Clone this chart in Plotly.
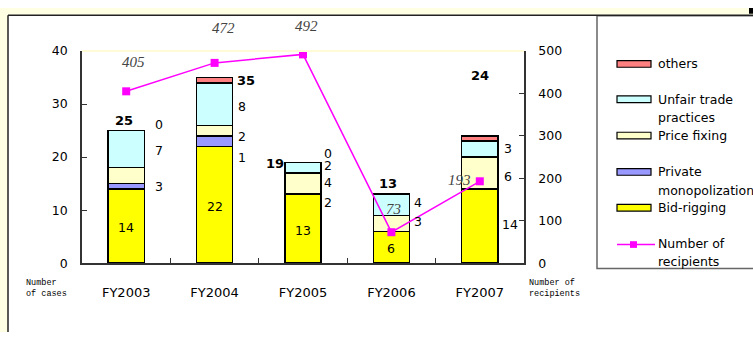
import plotly.graph_objects as go

# ---- data -------------------------------------------------------------
years = ["FY2003", "FY2004", "FY2005", "FY2006", "FY2007"]
bid_rigging = [14, 22, 13, 6, 14]
private_monopolization = [1, 2, 0, 0, 0]
price_fixing = [3, 2, 4, 3, 6]
unfair_trade = [7, 8, 2, 4, 3]
others = [0, 1, 0, 0, 1]
recipients = [405, 472, 492, 73, 193]

# side labels printed beside each bar: (text, height on the cases axis)
side_labels = [
    [("0", 26.1), ("7", 21.2), ("3", 14.4)],
    [("8", 29.5), ("2", 23.9), ("1", 20.0)],
    [("0", 20.7), ("2", 18.5), ("4", 15.3), ("2", 11.5)],
    [("4", 11.5), ("3", 7.8)],
    [("3", 21.7), ("6", 16.3), ("14", 7.2)],
]

W, H = 753, 339
FONT = "DejaVu Sans"


def px(x):
    return x / W


def py(y):
    return 1 - y / H


totals = [a + b + c + d + e for a, b, c, d, e in
          zip(bid_rigging, private_monopolization, price_fixing, unfair_trade, others)]

series = [
    ("Bid-rigging", bid_rigging, "#FFFF00"),
    ("Private monopolization", private_monopolization, "#9999FF"),
    ("Price fixing", price_fixing, "#FFFFCC"),
    ("Unfair trade practices", unfair_trade, "#CCFFFF"),
    ("others", others, "#FF8080"),
]

fig = go.Figure()
for name, vals, col in series:
    fig.add_trace(go.Bar(
        x=years, y=[v if v else None for v in vals], name=name,
        marker=dict(color=col, line=dict(color="black", width=1.5)),
        width=0.41, showlegend=False, hoverinfo="skip",
    ))

fig.add_trace(go.Scatter(
    x=years, y=recipients, yaxis="y2", mode="lines+markers",
    name="Number of recipients",
    line=dict(color="#FF00FF", width=1.5),
    marker=dict(symbol="square", size=8, color="#FF00FF"),
    showlegend=False, cliponaxis=False,
))

ann = []
# bid-rigging values inside the bars
inside_y = [6.7, 10.7, 6.2, 2.8, None]
for yr, v, yy in zip(years, bid_rigging, inside_y):
    if yy is None:
        continue
    ann.append(dict(x=yr, y=yy, xref="x", yref="y", text=str(v), showarrow=False,
                    font=dict(family=FONT, size=12.5, color="black")))

# totals in bold
total_shift = [(-2, 10), (31, -3), (-28, -1), (-3, 11), (0, 60)]
for yr, t, (dx, dy) in zip(years, totals, total_shift):
    ann.append(dict(x=yr, y=t, xref="x", yref="y", text=f"<b>{t}</b>", showarrow=False,
                    xshift=dx, yshift=dy,
                    font=dict(family=FONT, size=13, color="black")))

# side labels
side_dx = [33, 27, 25, 27, 28]
for yr, labs, dx in zip(years, side_labels, side_dx):
    for txt, yy in labs:
        ann.append(dict(x=yr, y=yy, xref="x", yref="y", text=txt, showarrow=False,
                        xshift=dx + (2 if len(txt) > 1 else 0),
                        font=dict(family=FONT, size=12.5, color="black")))

# recipient counts near the line markers
rec_shift = [(7, 29), (9, 35), (3, 28), (2, 23), (-20, 1)]
for yr, r, (dx, dy) in zip(years, recipients, rec_shift):
    ann.append(dict(x=yr, y=r, xref="x", yref="y2", text=f"<i>{r}</i>", showarrow=False,
                    xshift=dx, yshift=dy,
                    font=dict(family="Liberation Serif", size=15, color="#444444")))

# axis captions
mono = dict(family="Liberation Mono", size=8.5, color="black")
ann.append(dict(x=px(24), y=py(293), xref="paper", yref="paper", xanchor="left",
                yanchor="middle", align="left", showarrow=False,
                text="Number<br>of cases", font=mono))
ann.append(dict(x=px(527), y=py(293), xref="paper", yref="paper", xanchor="left",
                yanchor="middle", align="left", showarrow=False,
                text="Number of<br>recipients", font=mono))

shapes = []
# framing strips
shapes.append(dict(type="rect", xref="paper", yref="paper", x0=0, x1=1, y0=py(7), y1=1,
                   fillcolor="#FFFFE4", line=dict(width=0), layer="below"))
shapes.append(dict(type="rect", xref="paper", yref="paper", x0=0, x1=px(8), y0=0, y1=1,
                   fillcolor="#FFFFE4", line=dict(width=0), layer="below"))
shapes.append(dict(type="line", xref="paper", yref="paper", x0=px(8), x1=1, y0=py(7.5), y1=py(7.5),
                   line=dict(color="#222222", width=1.5)))
shapes.append(dict(type="line", xref="paper", yref="paper", x0=px(8), x1=px(8), y0=0, y1=py(7.5),
                   line=dict(color="#222222", width=1.5)))
shapes.append(dict(type="rect", xref="paper", yref="paper", x0=px(749), x1=1, y0=py(6), y1=1,
                   fillcolor="black", line=dict(width=0)))
# faint top edge of the plot area
shapes.append(dict(type="line", xref="paper", yref="paper", x0=px(82), x1=px(524), y0=py(45), y1=py(45),
                   line=dict(color="#FFFBD6", width=2)))

# legend frame and entries
shapes.append(dict(type="rect", xref="paper", yref="paper", x0=px(597), x1=px(760),
                   y0=py(272.5), y1=py(8), fillcolor="white",
                   line=dict(color="#666666", width=1.5), layer="below"))
legend_items = [
    ("others", "#FF8080", 58.5, ["others"]),
    ("unfair", "#CCFFFF", 95.5, ["Unfair trade", "practices"]),
    ("price", "#FFFFCC", 133.5, ["Price fixing"]),
    ("private", "#9999FF", 171.5, ["Private", "monopolization"]),
    ("bid", "#FFFF00", 209, ["Bid-rigging"]),
]
LEG_FONT = dict(family=FONT, size=12.5, color="black")
for _, col, yc, lines in legend_items:
    shapes.append(dict(type="rect", xref="paper", yref="paper", x0=px(617), x1=px(651),
                       y0=py(yc + 3.5), y1=py(yc - 3.5), fillcolor=col,
                       line=dict(color="black", width=1.2)))
    for i, t in enumerate(lines):
        ann.append(dict(x=px(656), y=py(yc + 19.5 * i), xref="paper", yref="paper",
                        xanchor="left", yanchor="middle", showarrow=False, text=t,
                        font=LEG_FONT))
yl = 247.5
shapes.append(dict(type="line", xref="paper", yref="paper", x0=px(617), x1=px(655), y0=py(yl), y1=py(yl),
                   line=dict(color="#FF00FF", width=1.5)))
shapes.append(dict(type="rect", xref="paper", yref="paper", x0=px(630), x1=px(637),
                   y0=py(yl + 3.5), y1=py(yl - 3.5), fillcolor="#FF00FF", line=dict(width=0)))
for i, t in enumerate(["Number of", "recipients"]):
    ann.append(dict(x=px(656), y=py(yl - 1.5 + 19 * i), xref="paper", yref="paper",
                    xanchor="left", yanchor="middle", showarrow=False, text=t,
                    font=LEG_FONT))

axis_common = dict(showline=True, linecolor="#333333", linewidth=1.5, ticks="inside",
                   ticklen=5, tickcolor="#333333", showgrid=False, zeroline=False,
                   fixedrange=True)

fig.update_layout(
    width=W, height=H, margin=dict(l=0, r=0, t=0, b=0),
    paper_bgcolor="white", plot_bgcolor="white",
    barmode="stack", showlegend=False,
    font=dict(family=FONT, color="black"),
    xaxis=dict(domain=[px(82), px(524)], type="category", categoryorder="array",
               categoryarray=years, range=[-0.5, 4.5], tickson="boundaries",
               tickfont=dict(family=FONT, size=13), ticklabelstandoff=16,
               **axis_common),
    yaxis=dict(domain=[py(267), py(45)], range=[0, 40], dtick=10,
               tickfont=dict(family=FONT, size=12.5), ticklabelstandoff=10,
               **axis_common),
    yaxis2=dict(domain=[py(267), py(45)], overlaying="y", side="right", anchor="x",
                range=[0, 500], dtick=100,
                tickfont=dict(family=FONT, size=12.5), ticklabelstandoff=10,
                **axis_common),
    annotations=ann, shapes=shapes,
)

fig.write_html("out.html")
